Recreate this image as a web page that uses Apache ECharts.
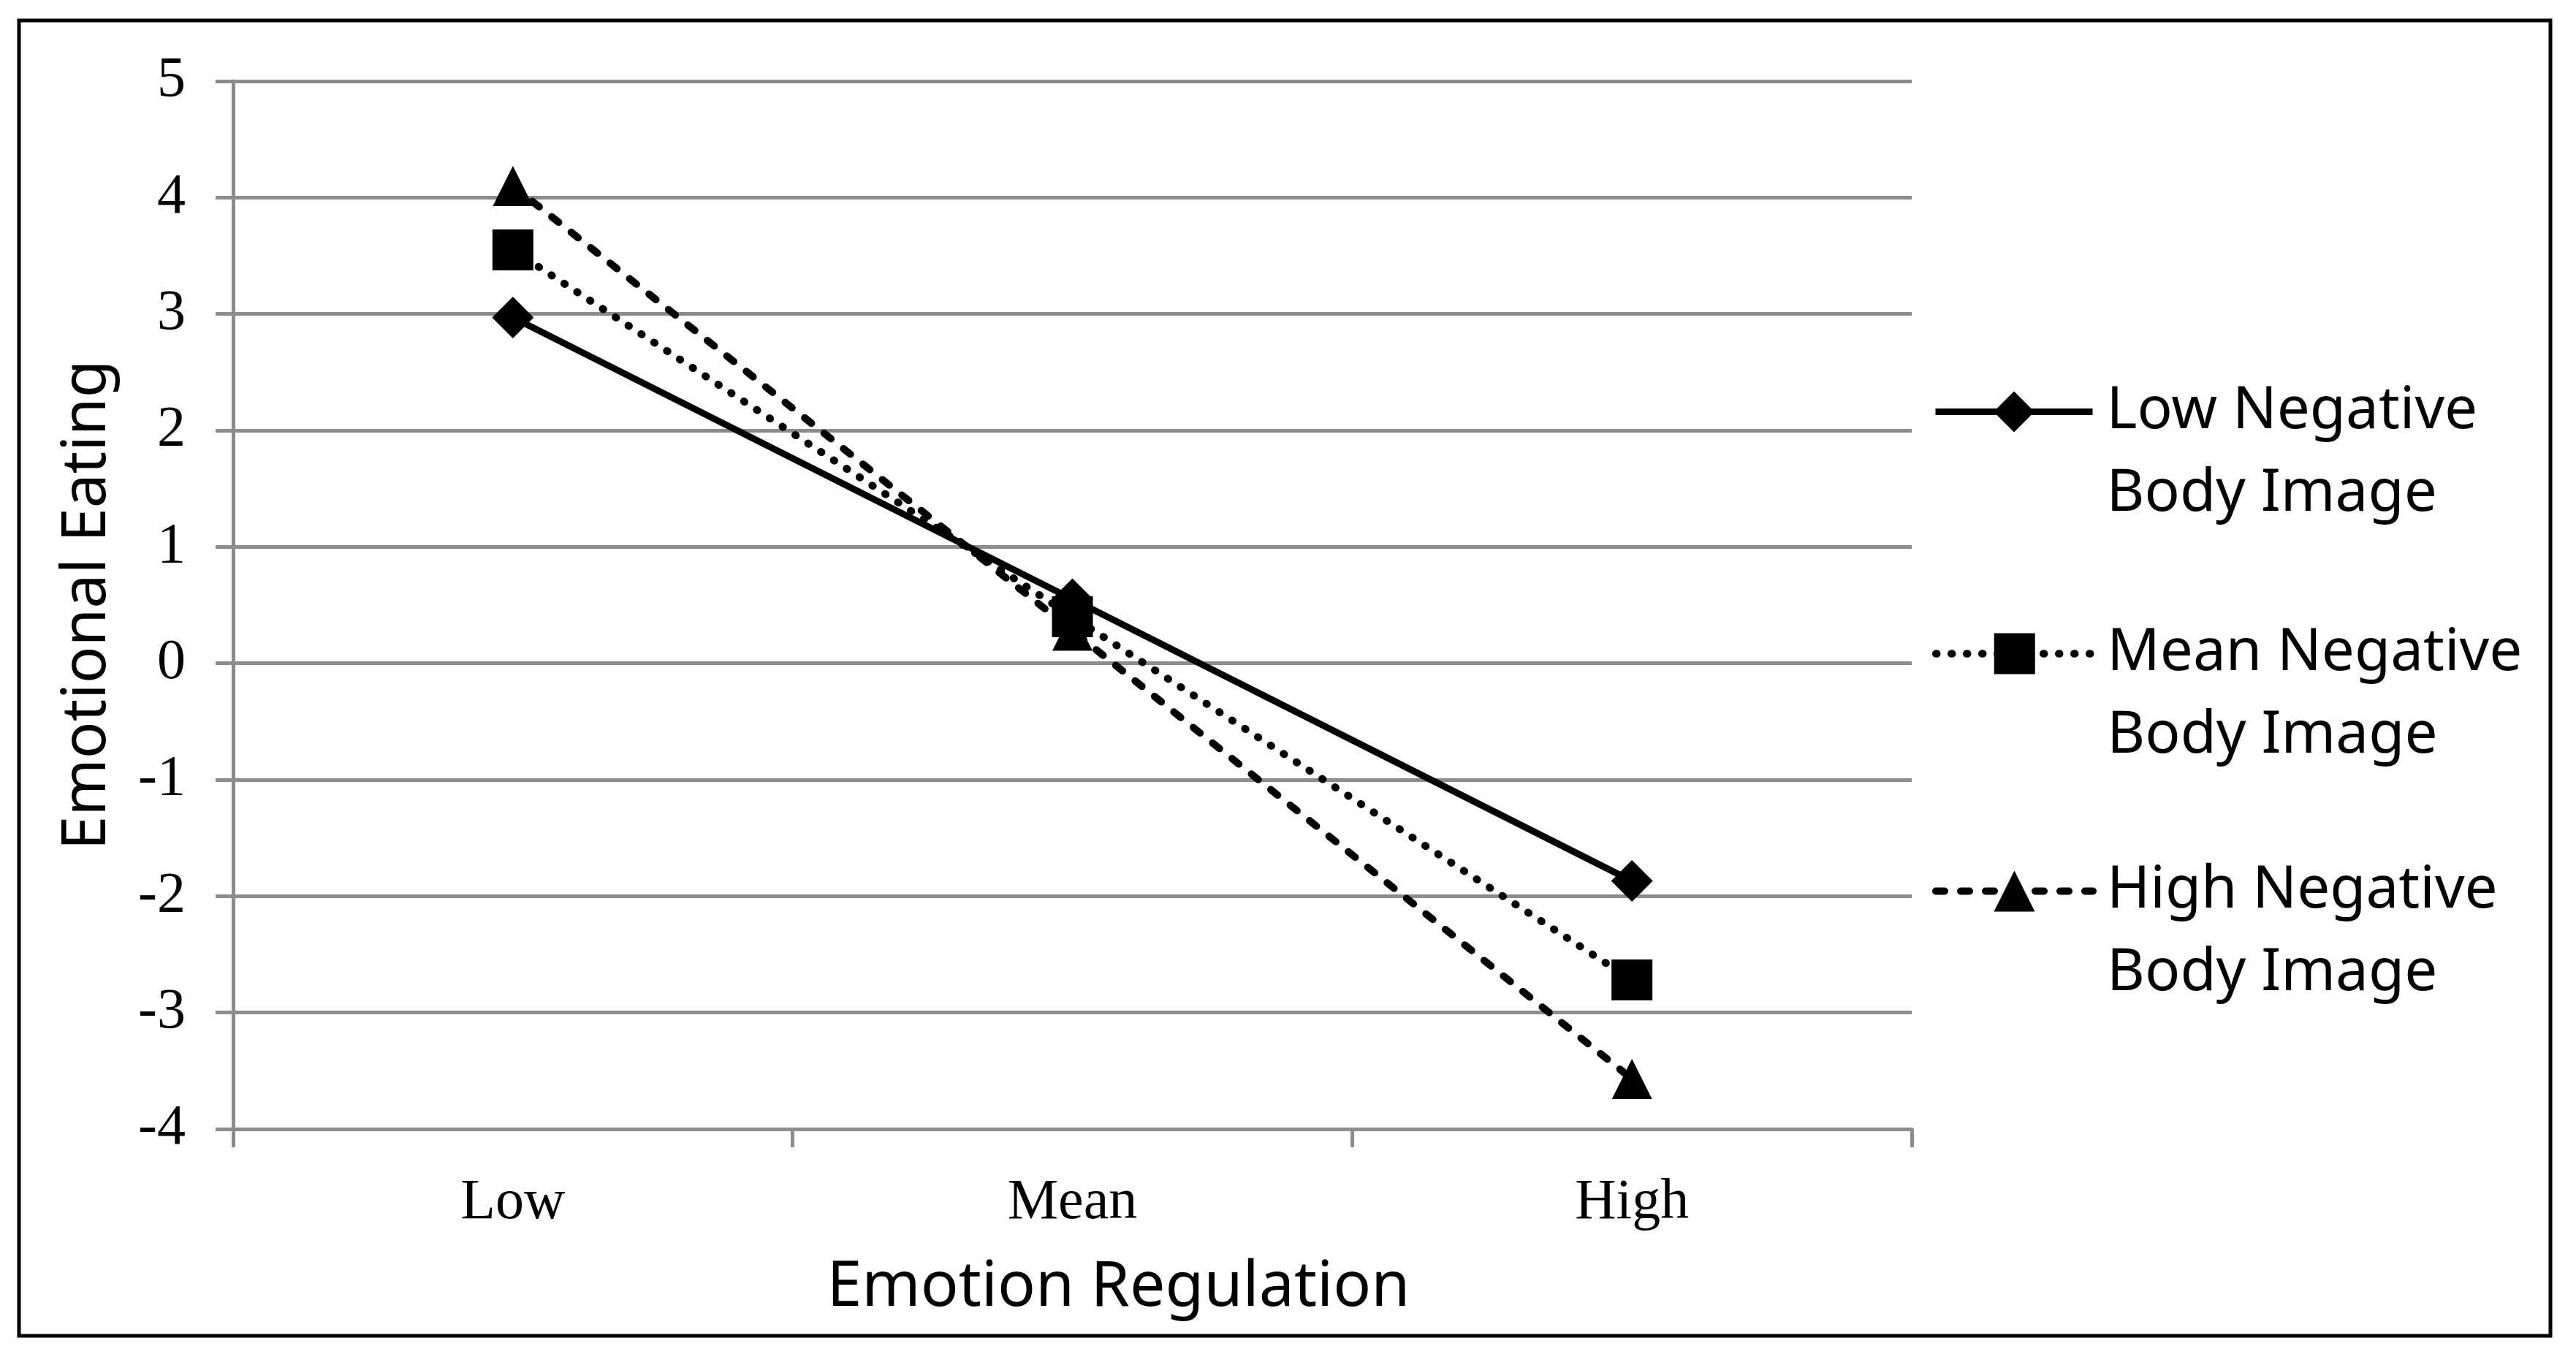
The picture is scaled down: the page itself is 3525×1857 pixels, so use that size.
<!DOCTYPE html>
<html><head><meta charset="utf-8">
<script src="https://cdn.jsdelivr.net/npm/echarts@6/dist/echarts.min.js"></script>
<style>html,body{margin:0;padding:0;background:#fff}#c{width:3525px;height:1857px}</style>
</head><body><div id="c"></div>
<script>
const categories = ['Low', 'Mean', 'High'];
const lowNegBI = [2.97, 0.55, -1.87];
const meanNegBI = [3.55, 0.40, -2.72];
const highNegBI = [4.10, 0.28, -3.57];
const seriesNames = ['Low Negative\nBody Image', 'Mean Negative\nBody Image', 'High Negative\nBody Image'];
const yTicks = { min: -4, max: 5, interval: 1 };

const chart = echarts.init(document.getElementById('c'));
const sans = 'Noto Sans';
const serif = 'Liberation Serif';
const LH = 113;
function legendFor(name, top) {
  return {
    data: [name], left: 2644, top: top, orient: 'vertical',
    itemWidth: 215, itemHeight: 70, itemGap: 0, padding: 0,
    selectedMode: false,
    formatter: n => ' \n' + n,
    lineStyle: { width: 'inherit', type: 'inherit', cap: 'inherit', color: 'inherit' },
    textStyle: { fontFamily: sans, fontSize: 80, color: '#000', lineHeight: LH, padding: [0, 0, 0, 14] }
  };
}
chart.setOption({
  animation: false,
  backgroundColor: '#fff',
  graphic: [{ type: 'rect', shape: { x: 26, y: 28, width: 3464, height: 1800 }, style: { fill: 'none', stroke: '#000', lineWidth: 5 } }],
  legend: [legendFor(seriesNames[0], 564 - 170), legendFor(seriesNames[1], 895 - 170), legendFor(seriesNames[2], 1220 - 170)],
  grid: { left: 319, right: 909, top: 111, bottom: 312, containLabel: false },
  xAxis: {
    type: 'category', data: categories, boundaryGap: true,
    name: 'Emotion Regulation', nameLocation: 'middle', nameGap: 174,
    nameTextStyle: { fontFamily: sans, fontSize: 86, color: '#000', padding: [0, 0, 0, 126] },
    axisLine: { show: true, onZero: false, lineStyle: { color: '#8c8c8c', width: 5 } },
    axisTick: { show: true, length: 25, inside: false, alignWithLabel: false, lineStyle: { color: '#8c8c8c', width: 5 } },
    axisLabel: { fontFamily: serif, fontSize: 78, color: '#000', margin: 63 },
    splitLine: { show: false }
  },
  yAxis: {
    type: 'value', min: yTicks.min, max: yTicks.max, interval: yTicks.interval,
    name: 'Emotional Eating', nameLocation: 'middle', nameGap: 157, nameRotate: 90,
    nameTextStyle: { fontFamily: sans, fontSize: 84, color: '#000' },
    axisLine: { show: true, lineStyle: { color: '#8c8c8c', width: 5 } },
    axisTick: { show: true, length: 24, inside: false, lineStyle: { color: '#8c8c8c', width: 5 } },
    axisLabel: { fontFamily: serif, fontSize: 78, color: '#000', margin: 65 },
    splitLine: { show: true, lineStyle: { color: '#8c8c8c', width: 5 } }
  },
  series: [
    { name: seriesNames[0], type: 'line', data: lowNegBI, symbol: 'diamond', symbolSize: 57,
      itemStyle: { color: '#000' }, lineStyle: { color: '#000', width: 9, type: 'solid' }, z: 3 },
    { name: seriesNames[1], type: 'line', data: meanNegBI, symbol: 'rect', symbolSize: 56,
      itemStyle: { color: '#000' }, lineStyle: { color: '#000', width: 10.5, type: [1, 20], cap: 'round' }, z: 3 },
    { name: seriesNames[2], type: 'line', data: highNegBI, symbol: 'triangle', symbolSize: 55,
      itemStyle: { color: '#000' }, lineStyle: { color: '#000', width: 10, type: [12, 22], cap: 'round' }, z: 3 }
  ]
});
</script></body></html>
